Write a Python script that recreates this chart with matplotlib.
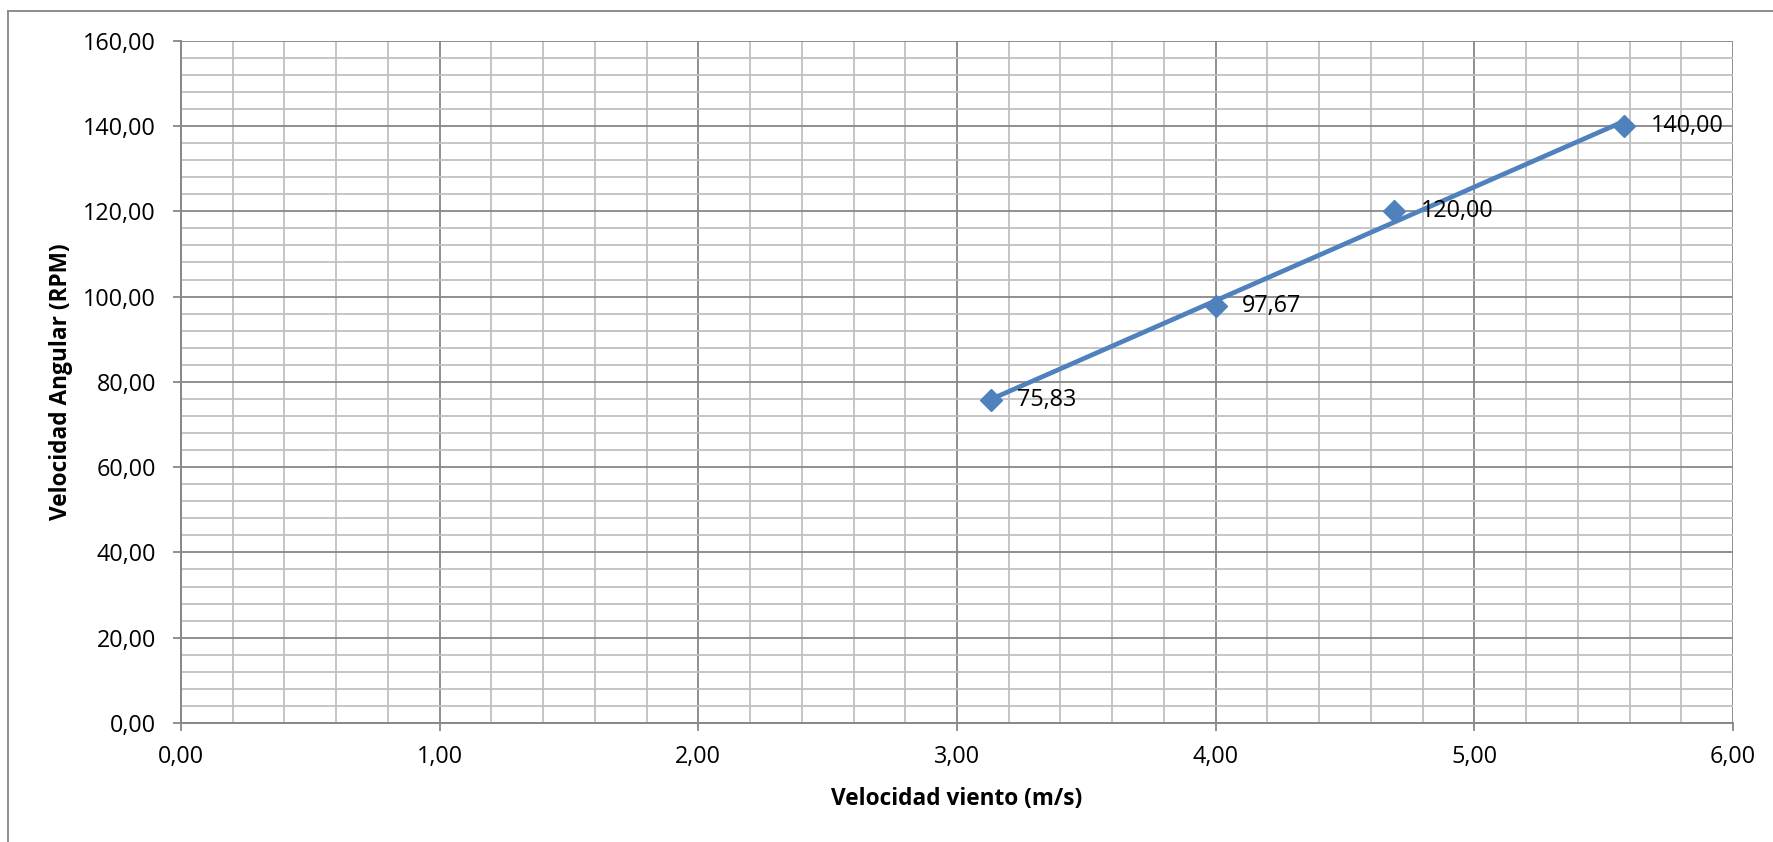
import matplotlib
matplotlib.use("Agg")
import matplotlib.pyplot as plt
import numpy as np
from matplotlib.ticker import MultipleLocator, FuncFormatter
from matplotlib.lines import Line2D

plt.rcParams['font.family'] = ['Open Sans', 'DejaVu Sans']

# Data
wind_speed = [3.13, 4.00, 4.69, 5.58]          # m/s
angular_speed = [75.83, 97.67, 120.00, 140.00]  # RPM
point_labels = ["75,83", "97,67", "120,00", "140,00"]

x_label = "Velocidad viento (m/s)"
y_label = "Velocidad Angular (RPM)"

blue = "#4F81BD"
major_c = "#878787"
minor_c = "#C0C0C0"

W, H = 1773, 842
fig = plt.figure(figsize=(W / 100, H / 100), dpi=100)
ax = fig.add_axes([181 / W, 1 - 723 / H, (1733 - 181) / W, (723 - 40.7) / H])

ax.set_xlim(0, 6)
ax.set_ylim(0, 160)
ax.xaxis.set_major_locator(MultipleLocator(1))
ax.xaxis.set_minor_locator(MultipleLocator(0.2))
ax.yaxis.set_major_locator(MultipleLocator(20))
ax.yaxis.set_minor_locator(MultipleLocator(4))
fmt = FuncFormatter(lambda v, p: f"{v:.2f}".replace('.', ','))
ax.xaxis.set_major_formatter(fmt)
ax.yaxis.set_major_formatter(fmt)

ax.grid(which='minor', color=minor_c, lw=1.3, zorder=0)
ax.grid(which='major', color=major_c, lw=1.3, zorder=0.5)
ax.set_axisbelow(True)

for s in ['top', 'right']:
    ax.spines[s].set_visible(False)
for s in ['left', 'bottom']:
    ax.spines[s].set_color(major_c)
    ax.spines[s].set_linewidth(1.4)

ax.tick_params(which='major', length=6, width=1.3, color=major_c,
               labelsize=16.8, pad=10)
ax.tick_params(which='minor', length=0)
ax.tick_params(axis='y', pad=12)

# Linear trendline
coef = np.polyfit(wind_speed, angular_speed, 1)
xs = np.array([min(wind_speed), max(wind_speed)])
ax.plot(xs, np.polyval(coef, xs), color=blue, lw=3.4, zorder=3,
        solid_capstyle='butt')

# Markers
ax.plot(wind_speed, angular_speed, linestyle='none', marker='D', ms=11,
        color=blue, zorder=4, clip_on=False)

for xv, yv, lab in zip(wind_speed, angular_speed, point_labels):
    ax.annotate(lab, (xv, yv), xytext=(19, 0), textcoords='offset points',
                va='center', ha='left', fontsize=16.8, zorder=5)

ax.set_xlabel(x_label, fontsize=16.3, fontweight='bold', labelpad=13)
ax.set_ylabel(y_label, fontsize=16.3, fontweight='bold', labelpad=7)

# Chart frame (left and top edges visible)
fig.add_artist(Line2D([8 / W, 8 / W], [0, 1 - 11 / H], transform=fig.transFigure,
                      color="#8C8C8C", lw=1.4))
fig.add_artist(Line2D([8 / W, 1], [1 - 11 / H, 1 - 11 / H], transform=fig.transFigure,
                      color="#8C8C8C", lw=1.4))

fig.savefig("out.png", dpi=100)
